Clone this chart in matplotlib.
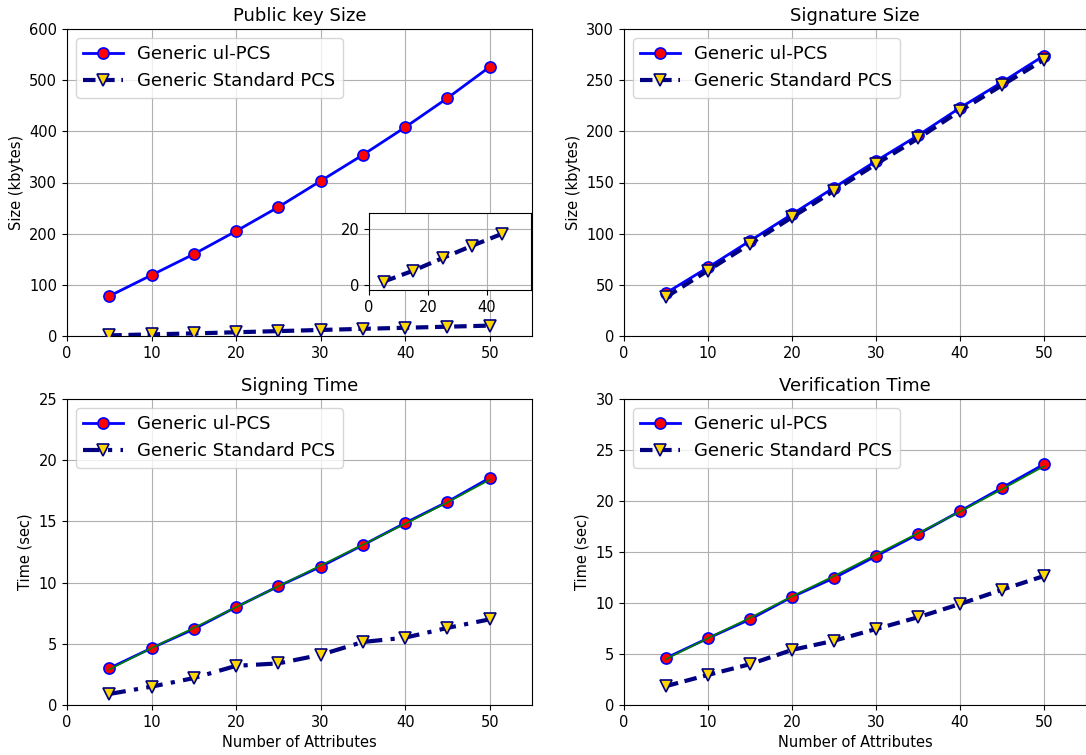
import numpy as np
import matplotlib
matplotlib.use("Agg")
import matplotlib.pyplot as plt

attrs = [5, 10, 15, 20, 25, 30, 35, 40, 45, 50]

# public key size (kbytes)
pk_ul = [78, 119, 160, 205, 252, 303, 354, 408, 465, 526]
pk_std = [1.2, 3.2, 5.1, 7.3, 9.6, 11.8, 14.0, 16.1, 18.2, 20.3]

# signature size (kbytes)
sig_ul = [42, 67, 93, 119, 145, 171, 196, 223, 248, 274]
sig_std = [38, 64, 90, 116, 142, 168, 193, 220, 245, 270]

# signing time (sec)
sign_ul = [3.0, 4.65, 6.2, 8.0, 9.7, 11.3, 13.07, 14.87, 16.6, 18.55]
sign_fit = [2.9, 4.65, 6.3, 8.0, 9.7, 11.4, 13.1, 14.8, 16.55, 18.4]
sign_std = [0.9, 1.5, 2.2, 3.2, 3.4, 4.1, 5.15, 5.5, 6.3, 7.0]

# verification time (sec)
ver_ul = [4.6, 6.55, 8.4, 10.6, 12.45, 14.6, 16.75, 19.0, 21.3, 23.6]
ver_fit = [4.5, 6.55, 8.55, 10.65, 12.65, 14.75, 16.85, 18.95, 21.15, 23.4]
ver_std = [1.85, 2.95, 4.0, 5.4, 6.3, 7.45, 8.6, 9.9, 11.3, 12.65]

W, H = 1086, 755
fig = plt.figure(figsize=(W / 100, H / 100), dpi=100)

def box(x0, y0, x1, y1):
    return [x0 / W, 1 - y1 / H, (x1 - x0) / W, (y1 - y0) / H]

ax1 = fig.add_axes(box(67, 29, 532, 336))
ax2 = fig.add_axes(box(624, 29, 1086, 336))
ax3 = fig.add_axes(box(67, 399, 532, 705))
ax4 = fig.add_axes(box(624, 399, 1086, 705))

ul_style = dict(color="blue", lw=2, marker="o", markersize=8,
                markerfacecolor="red", markeredgecolor="blue", markeredgewidth=1.2)
std_style = dict(color="navy", lw=3, marker="v", markersize=9,
                 markerfacecolor="gold", markeredgecolor="navy", markeredgewidth=1.2)


def panel(ax, ul, std, title, ylabel, ylim, dashes=(3, 1.6), fit=None, xlabel=None):
    ax.grid(True, color="#b0b0b0", lw=0.8)
    ax.set_axisbelow(True)
    ax.plot(attrs, ul, label="Generic ul-PCS", zorder=3, **ul_style)
    ax.plot(attrs, std, ls="--", dashes=dashes, label="Generic Standard PCS",
            zorder=3, **std_style)
    if fit is not None:
        ax.plot(attrs, fit, color="green", lw=1.2, zorder=4)
    ax.set_xlim(0, 55)
    ax.set_ylim(*ylim)
    ax.set_title(title, fontsize=13)
    ax.set_ylabel(ylabel, fontsize=10.5)
    if xlabel:
        ax.set_xlabel(xlabel, fontsize=10.5)
    ax.tick_params(labelsize=10.5)
    ax.legend(loc="upper left", fontsize=13, handlelength=2.2)


panel(ax1, pk_ul, pk_std, "Public key Size", "Size (kbytes)", (0, 600))
panel(ax2, sig_ul, sig_std, "Signature Size", "Size (kbytes)", (0, 300))
panel(ax3, sign_ul, sign_std, "Signing Time", "Time (sec)", (0, 25),
      dashes=(4, 2, 1, 2), fit=sign_fit, xlabel="Number of Attributes")
panel(ax4, ver_ul, ver_std, "Verification Time", "Time (sec)", (0, 30),
      fit=ver_fit, xlabel="Number of Attributes")

# inset with the standard PCS public key size
ins = fig.add_axes(box(369, 213, 531, 290))
ins.plot(attrs[::2], pk_std[::2], ls="--", dashes=(3, 1.6), **std_style)
ins.set_xlim(0, 55)
ins.set_ylim(-1.8, 25.7)
ins.set_xticks([0, 20, 40])
ins.set_yticks([0, 20])
ins.grid(True, color="#b0b0b0", lw=0.8)
ins.tick_params(labelsize=10.5)

fig.savefig("out.png", dpi=100)
